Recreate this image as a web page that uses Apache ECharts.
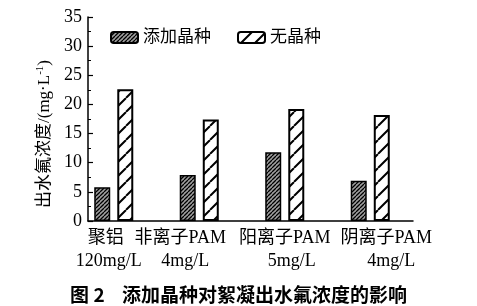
<!DOCTYPE html>
<html><head><meta charset="utf-8">
<script src="https://cdn.jsdelivr.net/npm/echarts@6/dist/echarts.min.js"></script>
<style>html,body{margin:0;padding:0;background:#fff}#c{width:477px;height:306px}</style>
</head><body><div id="c"></div>
<script>
const categories = ['聚铝\n120mg/L', '非离子PAM\n4mg/L', '阳离子PAM\n5mg/L', '阴离子PAM\n4mg/L'];
const seriesNames = ['添加晶种', '无晶种'];
const withSeed = [5.8, 7.9, 11.8, 6.9];
const withoutSeed = [22.6, 17.4, 19.2, 18.2];
const yMin = 0, yMax = 35, yInterval = 5;
const yAxisTitle = '出水氟浓度/(mg·L';
const yAxisSup = '-1';
const caption = '图 2    添加晶种对絮凝出水氟浓度的影响';

// label nudges (style only): [first line, second line] horizontal shift in px
const labelShift = [[-8, -5], [-19, -14], [0, 7], [16, 21]];

function makePattern(size, bg, lineColor, lw) {
  const c = document.createElement('canvas');
  c.width = size; c.height = size;
  const g = c.getContext('2d');
  g.fillStyle = bg; g.fillRect(0, 0, size, size);
  g.strokeStyle = lineColor; g.lineWidth = lw;
  g.beginPath();
  for (let k = -1; k <= 1; k++) {
    g.moveTo(k * size, size); g.lineTo(k * size + size, 0);
  }
  g.stroke();
  return { image: c, repeat: 'repeat' };
}
const darkPat = makePattern(4, '#a0a0a0', '#000', 1.3);
const lightPat = makePattern(14, '#fff', '#000', 2);

const serif = "'Liberation Serif', 'Noto Sans CJK SC', serif";
const rich = {};
labelShift.forEach((s, i) => {
  s.forEach((dx, j) => {
    rich['t' + i + '_' + j] = {
      fontSize: 18, fontFamily: serif, color: '#000', lineHeight: 23,
      padding: dx >= 0 ? [0, 0, 0, 2 * dx] : [0, -2 * dx, 0, 0]
    };
  });
});

const chart = echarts.init(document.getElementById('c'));
chart.setOption({
  animation: false,
  backgroundColor: '#fff',
  title: {
    text: caption, left: 'center', top: 280,
    textStyle: { fontSize: 19, fontWeight: 'bold', fontFamily: "'Noto Sans CJK SC', sans-serif", color: '#000' }
  },
  legend: {
    data: seriesNames, left: 105, top: 24, itemWidth: 27, itemHeight: 11, itemGap: 26,
    textStyle: { fontSize: 17, fontFamily: serif, color: '#000' }
  },
  grid: [
    { left: 88, top: 17, width: 325, height: 204 },
    { left: 71, top: 17, width: 342, height: 204 }
  ],
  xAxis: [
    { gridIndex: 0, type: 'value', min: 0, max: 1, axisLine: { show: true, lineStyle: { color: '#000', width: 1.5 } },
      axisTick: { show: false }, axisLabel: { show: false }, splitLine: { show: false } },
    { gridIndex: 1, type: 'category', data: categories, axisLine: { show: false }, axisTick: { show: false },
      axisLabel: { margin: 6, interval: 0, rich: rich,
        formatter: (v, i) => v.split('\n').map((ln, j) => '{t' + i + '_' + j + '|' + ln + '}').join('\n') } }
  ],
  yAxis: [
    { gridIndex: 0, type: 'value', min: yMin, max: yMax, interval: yInterval,
      name: '{m|' + yAxisTitle + '}{s|' + yAxisSup + '}{m|)}', nameLocation: 'middle', nameGap: 30, nameRotate: 90,
      nameTextStyle: { padding: [0, 30, 0, 0], rich: {
        m: { fontSize: 17, fontFamily: serif, color: '#000', lineHeight: 20 },
        s: { fontSize: 11, fontFamily: serif, color: '#000', verticalAlign: 'top', lineHeight: 20 }
      } },
      axisLine: { show: true, lineStyle: { color: '#000', width: 1.5 } },
      axisTick: { show: true, inside: true, length: 5, lineStyle: { color: '#000', width: 1.2 } },
      minorTick: { show: true, splitNumber: 2, length: 3, lineStyle: { color: '#000', width: 1 } },
      axisLabel: { fontSize: 18, fontFamily: serif, color: '#000', margin: 6 },
      splitLine: { show: false }, minorSplitLine: { show: false } },
    { gridIndex: 1, type: 'value', min: yMin, max: yMax, show: false, splitLine: { show: false } }
  ],
  series: [
    { name: seriesNames[0], type: 'bar', xAxisIndex: 1, yAxisIndex: 1, data: withSeed, barWidth: 16, barGap: '44%',
      itemStyle: { color: darkPat, borderColor: '#000', borderWidth: 1.5 } },
    { name: seriesNames[1], type: 'bar', xAxisIndex: 1, yAxisIndex: 1, data: withoutSeed, barWidth: 16, barGap: '44%',
      itemStyle: { color: lightPat, borderColor: '#000', borderWidth: 2 } }
  ]
});
</script></body></html>
